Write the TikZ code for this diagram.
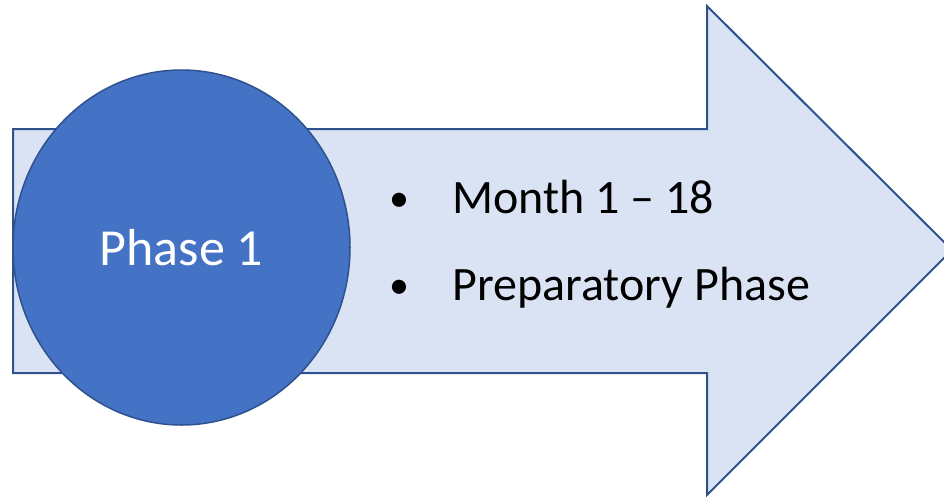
\documentclass[tikz,border=0pt]{standalone}
\usepackage{fontspec}
\setmainfont{Carlito}
\usetikzlibrary{shapes.geometric}
\definecolor{phaseblue}{HTML}{4472C4}
\definecolor{edgeblue}{HTML}{2F528F}
\definecolor{arrowfill}{HTML}{DAE3F3}
\tikzset{
    phasecircle/.style={ellipse, draw=edgeblue, fill=phaseblue, line width=1.5pt,
        minimum width=337pt, minimum height=355pt, inner sep=0pt,
        text=white, font=\fontsize{52}{56}\selectfont},
    bulletmark/.style={anchor=base, font=\fontsize{40}{44}\selectfont},
    bullettext/.style={anchor=base west, font=\fontsize{48}{52}\selectfont}
}
\begin{document}
\begin{tikzpicture}[x=1pt,y=-1pt]
                    \useasboundingbox (0,0) rectangle (944,496);
                    \clip (0,0) rectangle (944,496);
                    \draw[edgeblue, fill=arrowfill, line width=2pt, line join=miter]
                        (13,129) -- (707,129) -- (707,6) -- (952,250)
                        -- (707,495) -- (707,373) -- (13,373) -- cycle;
                    \node[phasecircle] (phase) at (181.5,247.5) {Phase 1};
                    \node[bulletmark] (dota) at (399,211) {\textbullet};
                    \node[bullettext] (month) at (449,213) {Month 1 – 18};
                    \node[bulletmark] (dotb) at (399,298) {\textbullet};
                    \node[bullettext] (prep) at (449,300) {Preparatory Phase};
                \end{tikzpicture}
\end{document}
